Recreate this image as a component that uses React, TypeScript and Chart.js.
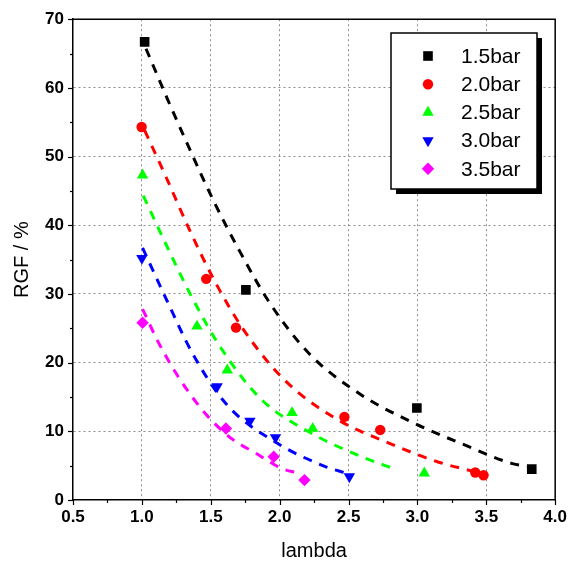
import React, { useEffect, useRef } from 'react';
import { Chart, registerables } from 'chart.js';
import { drawPoint } from 'chart.js/helpers';

Chart.register(...registerables);

// Measured points per pressure
const lambda15 = [1.02, 1.755, 2.996, 3.83];
const rgf15 = [66.7, 30.6, 13.4, 4.5];
const lambda20 = [0.998, 1.467, 1.683, 2.47, 2.73, 3.42, 3.48];
const rgf20 = [54.3, 32.2, 25.1, 12.1, 10.2, 4.0, 3.6];
const lambda25 = [1.005, 1.4, 1.62, 2.09, 2.24, 3.05];
const rgf25 = [47.3, 25.3, 18.9, 12.7, 10.4, 3.9];
const lambda30 = [1.0, 1.546, 1.784, 1.97, 2.506];
const rgf30 = [35.2, 16.5, 11.5, 9.1, 3.4];
const lambda35 = [1.005, 1.61, 1.957, 2.18];
const rgf35 = [25.8, 10.4, 6.3, 2.9];

// Fitted decay curves
const fit15X = [1.03, 1.185, 1.351, 1.517, 1.705, 1.921, 2.21, 2.585, 2.953, 3.32, 3.69, 3.8];
const fit15Y = [65.7, 58.4, 50.9, 43.7, 36.4, 28.9, 21.4, 15.4, 11.4, 8.2, 5.3, 4.9];
const fit20X = [1.02, 1.178, 1.344, 1.525, 1.741, 2.044, 2.412, 2.78, 3.155, 3.4];
const fit20Y = [53.8, 46.9, 39.4, 32.0, 24.7, 17.3, 11.8, 8.4, 5.5, 4.2];
const fit25X = [1.01, 1.185, 1.366, 1.575, 1.864, 2.232, 2.607, 2.838];
const fit25Y = [44.3, 36.8, 29.4, 22.1, 14.7, 9.7, 6.2, 4.5];
const fit30X = [1.005, 1.185, 1.366, 1.611, 1.972, 2.34, 2.484];
const fit30Y = [36.7, 28.9, 21.4, 14.0, 8.4, 4.8, 3.9];
const fit35X = [1.005, 1.106, 1.207, 1.322, 1.46, 1.64, 1.828, 2.015, 2.138];
const fit35Y = [27.8, 23.5, 19.8, 16.2, 12.6, 9.1, 6.8, 4.6, 3.9];

const seriesLabels = ['1.5bar', '2.0bar', '2.5bar', '3.0bar', '3.5bar'];
const seriesColors = ['#000000', '#ff0000', '#00ff00', '#0000ff', '#ff00ff'];

const FONT = '"Liberation Sans", Arial, Helvetica, sans-serif';

const zip = (xs: number[], ys: number[]) => xs.map((x, i) => ({ x, y: ys[i] }));

const markerStyles = [
  { pointStyle: 'rect', rotation: 0, pointRadius: 6.8 },
  { pointStyle: 'circle', rotation: 0, pointRadius: 5.2 },
  { pointStyle: 'triangle', rotation: 0, pointRadius: 6.6 },
  { pointStyle: 'triangle', rotation: 180, pointRadius: 6.6 },
  { pointStyle: 'rectRot', rotation: 0, pointRadius: 6.2 },
];

const isHalf = (v: number) => Math.abs(v * 2 - Math.round(v * 2)) < 1e-6;

const frameAndTicks = {
  id: 'frameAndTicks',
  afterDraw(chart: any) {
    const { ctx, chartArea } = chart;
    const { left, right, top, bottom } = chartArea;
    ctx.save();
    ctx.strokeStyle = '#000';
    ctx.lineWidth = 1.5;
    ctx.beginPath();
    ctx.moveTo(left, top);
    ctx.lineTo(right, top);
    ctx.lineTo(right, bottom);
    ctx.stroke();
    ctx.lineWidth = 1.2;
    const xs = chart.scales.x;
    xs.ticks.forEach((t: any) => {
      const px = Math.round(xs.getPixelForValue(t.value)) + 0.5;
      ctx.beginPath();
      ctx.moveTo(px, bottom);
      ctx.lineTo(px, bottom + (isHalf(t.value) ? 5 : 3));
      ctx.stroke();
    });
    const ys = chart.scales.y;
    ys.ticks.forEach((t: any) => {
      const py = Math.round(ys.getPixelForValue(t.value)) + 0.5;
      ctx.beginPath();
      ctx.moveTo(left, py);
      ctx.lineTo(left - (t.value % 10 === 0 ? 5 : 3), py);
      ctx.stroke();
    });
    ctx.restore();
  },
};

const boxLegend = {
  id: 'boxLegend',
  afterDraw(chart: any) {
    const ctx = chart.ctx;
    const bx = 391, by = 33, bw = 146, bh = 156, shadow = 5;
    ctx.save();
    ctx.fillStyle = '#000';
    ctx.fillRect(bx + shadow, by + shadow, bw, bh);
    ctx.fillStyle = '#fff';
    ctx.fillRect(bx, by, bw, bh);
    ctx.strokeStyle = '#000';
    ctx.lineWidth = 1.5;
    ctx.strokeRect(bx, by, bw, bh);
    const items = chart.data.datasets.filter((d: any) => !d.isFit);
    items.forEach((ds: any, i: number) => {
      const cy = by + 23 + i * 28.2;
      ctx.fillStyle = ds.backgroundColor;
      drawPoint(ctx, { pointStyle: ds.pointStyle, rotation: ds.rotation || 0, radius: ds.pointRadius, borderWidth: 0 }, 428, cy);
      ctx.fillStyle = '#000';
      ctx.font = `21px ${FONT}`;
      ctx.textBaseline = 'middle';
      ctx.textAlign = 'left';
      ctx.fillText(ds.label, 461, cy + 1);
    });
    ctx.restore();
  },
};

export default function App() {
  const ref = useRef<HTMLCanvasElement>(null);

  useEffect(() => {
    if (!ref.current) return;
    const pointSets = [
      zip(lambda15, rgf15),
      zip(lambda20, rgf20),
      zip(lambda25, rgf25),
      zip(lambda30, rgf30),
      zip(lambda35, rgf35),
    ];
    const fitSets = [
      zip(fit15X, fit15Y),
      zip(fit20X, fit20Y),
      zip(fit25X, fit25Y),
      zip(fit30X, fit30Y),
      zip(fit35X, fit35Y),
    ];
    const markers = pointSets.map((data, i) => ({
      label: seriesLabels[i],
      data,
      showLine: false,
      backgroundColor: seriesColors[i],
      borderColor: seriesColors[i],
      borderWidth: 0,
      pointStyle: markerStyles[i].pointStyle,
      rotation: markerStyles[i].rotation,
      pointRadius: markerStyles[i].pointRadius,
      order: 0,
    }));
    const fits = fitSets.map((data, i) => ({
      label: seriesLabels[i] + ' fit',
      isFit: true,
      data,
      showLine: true,
      borderColor: seriesColors[i],
      backgroundColor: seriesColors[i],
      borderWidth: 3,
      borderDash: [9, 8],
      pointRadius: 0,
      cubicInterpolationMode: 'monotone',
      order: 1,
    }));

    const gridColorX = (c: any) => {
      const v = c.tick ? c.tick.value : 0;
      return isHalf(v) && v > 0.6 && v < 3.9 ? '#8c8c8c' : 'rgba(0,0,0,0)';
    };
    const gridColorY = (c: any) => {
      const v = c.tick ? c.tick.value : 0;
      return v % 10 === 0 && v > 0 && v < 70 ? '#8c8c8c' : 'rgba(0,0,0,0)';
    };

    const chart = new Chart(ref.current, {
      type: 'scatter',
      data: { datasets: [...markers, ...fits] as any },
      options: {
        animation: false,
        responsive: false,
        devicePixelRatio: 1,
        layout: { padding: { top: 15, right: 16, left: 0, bottom: 0 } },
        plugins: { legend: { display: false }, tooltip: { enabled: false } },
        scales: {
          x: {
            type: 'linear',
            min: 0.5,
            max: 4.0,
            afterFit: (s: any) => { s.height = 65; },
            ticks: {
              stepSize: 0.25,
              color: '#000',
              padding: 7,
              maxRotation: 0,
              autoSkip: false,
              font: { family: FONT, size: 17, weight: 'bold' },
              callback: (v: any) => (isHalf(Number(v)) ? Number(v).toFixed(1) : ''),
            },
            grid: { color: gridColorX, drawTicks: false, lineWidth: 1 },
            border: { display: true, color: '#000', width: 1.5, dash: [2, 3] },
            title: {
              display: true,
              text: 'lambda',
              color: '#000',
              font: { family: FONT, size: 20 },
              padding: { top: 0, bottom: 2 },
            },
          },
          y: {
            type: 'linear',
            min: 0,
            max: 70,
            afterFit: (s: any) => { s.width = 73; },
            ticks: {
              stepSize: 5,
              color: '#000',
              padding: 9,
              autoSkip: false,
              font: { family: FONT, size: 17, weight: 'bold' },
              callback: (v: any) => (Number(v) % 10 === 0 ? String(v) : ''),
            },
            grid: { color: gridColorY, drawTicks: false, lineWidth: 1 },
            border: { display: true, color: '#000', width: 1.5, dash: [2, 3] },
            title: {
              display: true,
              text: 'RGF / %',
              color: '#000',
              font: { family: FONT, size: 20 },
              padding: { top: 10, bottom: 0 },
            },
          },
        },
      },
      plugins: [frameAndTicks, boxLegend],
    } as any);

    return () => chart.destroy();
  }, []);

  return (
    <div style={{ position: 'absolute', left: 0, top: 0, width: 574, height: 565, background: '#fff' }}>
      <canvas ref={ref} width={574} height={565} />
    </div>
  );
}
